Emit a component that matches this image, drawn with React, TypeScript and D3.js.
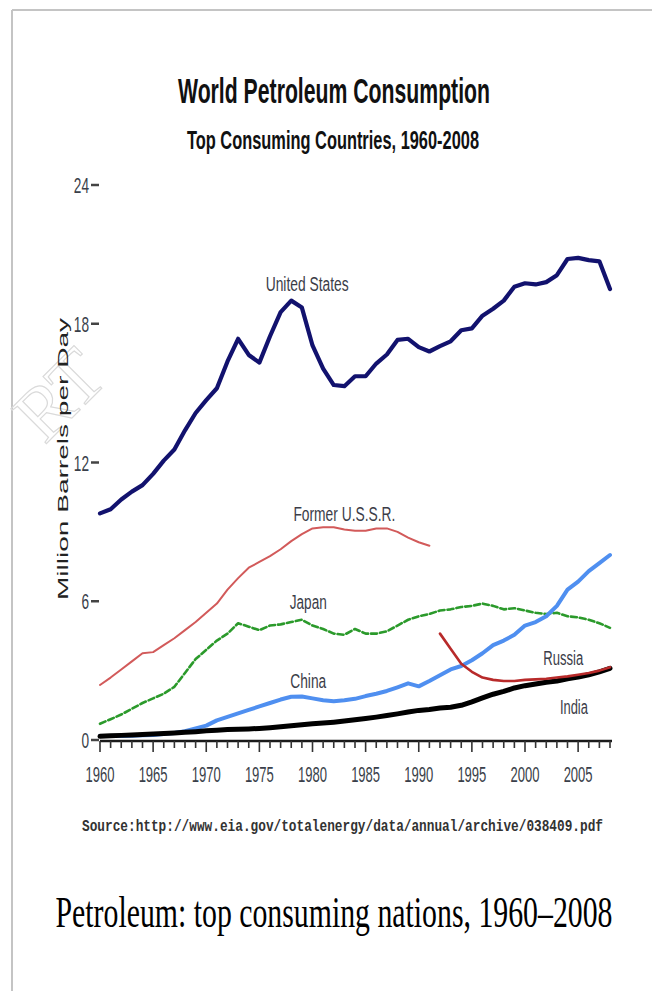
import React from "react";
import * as d3 from "d3";

const years: number[] = d3.range(1960, 2009);

const unitedStates: number[] = [
  9.8, 9.98, 10.4, 10.74, 11.02, 11.51, 12.08, 12.56, 13.39, 14.14,
  14.7, 15.21, 16.37, 17.35, 16.65, 16.32, 17.46, 18.5, 19.0, 18.7,
  17.06, 16.06, 15.35, 15.3, 15.73, 15.73, 16.28, 16.67, 17.3, 17.35,
  16.99, 16.8, 17.03, 17.24, 17.72, 17.8, 18.35, 18.65, 19.0, 19.6,
  19.75, 19.7, 19.8, 20.1, 20.8, 20.85, 20.75, 20.7, 19.5,
];

const ussrYears: number[] = d3.range(1960, 1992);
const formerUSSR: number[] = [
  2.38, 2.7, 3.05, 3.4, 3.75, 3.8, 4.1, 4.4, 4.75, 5.1,
  5.5, 5.9, 6.5, 7.0, 7.45, 7.7, 7.95, 8.25, 8.6, 8.9,
  9.15, 9.2, 9.2, 9.1, 9.05, 9.05, 9.15, 9.15, 9.0, 8.75,
  8.55, 8.4,
];

const japan: number[] = [
  0.7, 0.9, 1.1, 1.35, 1.6, 1.8, 2.0, 2.3, 2.9, 3.5,
  3.9, 4.3, 4.6, 5.05, 4.9, 4.75, 4.95, 5.0, 5.1, 5.2,
  4.95, 4.8, 4.6, 4.55, 4.8, 4.6, 4.6, 4.7, 4.95, 5.2,
  5.35, 5.45, 5.6, 5.65, 5.75, 5.8, 5.9, 5.8, 5.65, 5.7,
  5.6, 5.5, 5.45, 5.5, 5.35, 5.3, 5.2, 5.05, 4.85,
];

const china: number[] = [
  0.17, 0.17, 0.17, 0.18, 0.2, 0.22, 0.26, 0.3, 0.38, 0.5,
  0.62, 0.85, 1.0, 1.15, 1.3, 1.45, 1.6, 1.75, 1.87, 1.88,
  1.8, 1.72, 1.68, 1.72, 1.78, 1.9, 2.0, 2.12, 2.28, 2.45,
  2.32, 2.55, 2.8, 3.05, 3.2, 3.45, 3.75, 4.1, 4.3, 4.55,
  4.95, 5.1, 5.35, 5.8, 6.5, 6.85, 7.3, 7.65, 8.0,
];

const india: number[] = [
  0.16, 0.18, 0.2, 0.22, 0.24, 0.26, 0.28, 0.3, 0.33, 0.36,
  0.4, 0.42, 0.45, 0.47, 0.48, 0.5, 0.53, 0.57, 0.62, 0.66,
  0.7, 0.73, 0.77, 0.82, 0.88, 0.93, 0.99, 1.06, 1.13, 1.21,
  1.28, 1.32, 1.38, 1.42, 1.5, 1.65, 1.82, 1.98, 2.1, 2.25,
  2.35, 2.42, 2.5, 2.55, 2.65, 2.72, 2.82, 2.95, 3.1,
];

const russiaYears: number[] = d3.range(1992, 2009);
const russia: number[] = [
  4.6, 3.95, 3.3, 2.95, 2.7, 2.6, 2.55, 2.55, 2.6, 2.62,
  2.65, 2.7, 2.75, 2.82, 2.9, 3.0, 3.15,
];

const yTicks: number[] = [0, 6, 12, 18, 24];
const xLabelYears: number[] = [1960, 1965, 1970, 1975, 1980, 1985, 1990, 1995, 2000, 2005];

const seriesNames: string[] = ["United States", "Former U.S.S.R.", "Japan", "China", "Russia", "India"];
// label anchors in data space: [year, value]
const labelYears: number[] = [1979.5, 1983.0, 1979.6, 1979.6, 2003.6, 2004.6];
const labelValues: number[] = [19.4, 9.47, 5.66, 2.25, 3.24, 1.12];
const labelWidths: number[] = [83, 102, 37, 36, 40, 28];

const titleText = "World Petroleum Consumption";
const subtitleText = "Top Consuming Countries, 1960-2008";
const yAxisTitle = "Million Barrels per Day";
const sourceText = "Source:http://www.eia.gov/totalenergy/data/annual/archive/038409.pdf";
const captionText = "Petroleum: top consuming nations, 1960\u20132008";
const watermarkText = "RT";

const narrow = "'Liberation Sans Narrow', 'Arial Narrow', 'Liberation Sans', Arial, sans-serif";

export default function App() {
  const x = d3.scaleLinear().domain([1960, 2008]).range([100, 610]);
  const y = d3.scaleLinear().domain([0, 24]).range([740, 185]);

  const line = d3
    .line<[number, number]>()
    .x((d) => x(d[0]))
    .y((d) => y(d[1]))
    .curve(d3.curveLinear);

  const zip = (xs: number[], vs: number[]) => xs.map((yr, i) => [yr, vs[i]] as [number, number]);

  const series = [
    { pts: zip(years, unitedStates), color: "#12126e", width: 4.2, dash: undefined },
    { pts: zip(ussrYears, formerUSSR), color: "#d25a5a", width: 2, dash: undefined },
    { pts: zip(years, japan), color: "#2b9a2b", width: 2.6, dash: "6,3" },
    { pts: zip(years, china), color: "#4f8ff0", width: 4, dash: undefined },
    { pts: zip(years, india), color: "#000000", width: 5, dash: undefined },
    { pts: zip(russiaYears, russia), color: "#b82a2a", width: 2.6, dash: undefined },
  ];

  const allYears = d3.range(1960, 2009);

  return (
    <div style={{ position: "absolute", left: 0, top: 0 }}>
      <svg width={652} height={991} style={{ display: "block", background: "#ffffff" }}>
        {/* frame */}
        <line x1={12} y1={10} x2={652} y2={10} stroke="#c4c4c4" strokeWidth={2} />
        <line x1={12} y1={10} x2={12} y2={991} stroke="#c4c4c4" strokeWidth={2} />

        {/* watermark */}
        <text
          x={0}
          y={0}
          transform="translate(110,380) rotate(-45)"
          textAnchor="end"
          fontFamily="'Liberation Serif', 'DejaVu Serif', serif"
          fontSize={76}
          fill="none"
          stroke="#dadada"
          strokeWidth={1.2}
        >
          {watermarkText}
        </text>

        {/* titles */}
        <text
          x={334}
          y={103}
          textAnchor="middle"
          fontFamily={narrow}
          fontWeight="bold"
          fontSize={35}
          fill="#111"
          textLength={312}
          lengthAdjust="spacingAndGlyphs"
        >
          {titleText}
        </text>
        <text
          x={333}
          y={149}
          textAnchor="middle"
          fontFamily={narrow}
          fontWeight="bold"
          fontSize={25}
          fill="#111"
          textLength={292}
          lengthAdjust="spacingAndGlyphs"
        >
          {subtitleText}
        </text>

        {/* y axis title */}
        <text
          transform="translate(68,459) rotate(-90)"
          textAnchor="middle"
          fontFamily="'Liberation Sans', Arial, sans-serif"
          fontSize={14}
          fill="#222"
          textLength={282}
          lengthAdjust="spacingAndGlyphs"
        >
          {yAxisTitle}
        </text>

        {/* y ticks */}
        {yTicks.map((t) => (
          <g key={"yt" + t}>
            <line x1={91} x2={99} y1={y(t)} y2={y(t)} stroke="#444" strokeWidth={2.5} />
            <text
              x={89}
              y={y(t) + 8}
              textAnchor="end"
              fontFamily={narrow}
              fontSize={22}
              fill="#3a3f4a"
              textLength={String(t).length * 7.6}
              lengthAdjust="spacingAndGlyphs"
            >
              {t}
            </text>
          </g>
        ))}

        {/* series */}
        {series.map((s, i) => (
          <path
            key={"s" + i}
            d={line(s.pts) || ""}
            fill="none"
            stroke={s.color}
            strokeWidth={s.width}
            strokeDasharray={s.dash}
            strokeLinejoin="round"
            strokeLinecap="round"
          />
        ))}

        {/* x axis */}
        <line x1={x(1960)} x2={x(2008) + 2} y1={741} y2={741} stroke="#1a1a1a" strokeWidth={2.5} />
        {allYears.map((yr) => (
          <line
            key={"xt" + yr}
            x1={x(yr)}
            x2={x(yr)}
            y1={741}
            y2={yr % 5 === 0 ? 752 : 748}
            stroke="#333"
            strokeWidth={1.6}
          />
        ))}
        {xLabelYears.map((yr) => (
          <text
            key={"xl" + yr}
            x={x(yr)}
            y={782}
            textAnchor="middle"
            fontFamily={narrow}
            fontSize={22}
            fill="#3a3f4a"
            textLength={29}
            lengthAdjust="spacingAndGlyphs"
          >
            {yr}
          </text>
        ))}

        {/* series labels */}
        {seriesNames.map((n, i) => (
          <text
            key={"lb" + i}
            x={x(labelYears[i])}
            y={y(labelValues[i])}
            textAnchor="middle"
            fontFamily={narrow}
            fontSize={20}
            fill="#3b3d48"
            textLength={labelWidths[i]}
            lengthAdjust="spacingAndGlyphs"
          >
            {n}
          </text>
        ))}

        {/* source */}
        <text
          x={82}
          y={831}
          fontFamily="'Liberation Mono', 'DejaVu Sans Mono', monospace"
          fontSize={16}
          fontWeight="bold"
          fill="#333"
          textLength={521}
          lengthAdjust="spacingAndGlyphs"
        >
          {sourceText}
        </text>

        {/* caption */}
        <text
          x={334}
          y={927}
          textAnchor="middle"
          fontFamily="'Liberation Serif', 'Times New Roman', serif"
          fontSize={45}
          fill="#000"
          textLength={557}
          lengthAdjust="spacingAndGlyphs"
        >
          {captionText}
        </text>
      </svg>
    </div>
  );
}
